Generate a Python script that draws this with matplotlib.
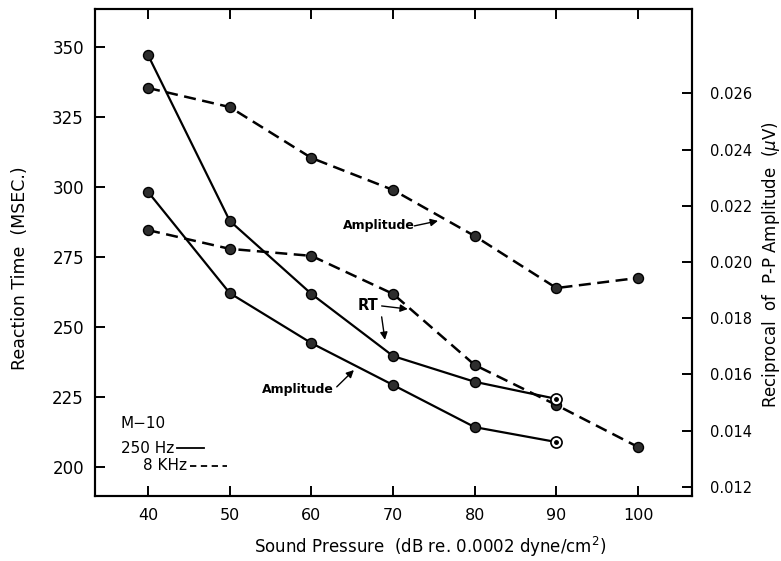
import matplotlib
matplotlib.use("Agg")
import matplotlib.pyplot as plt

plt.rcParams['font.family'] = ['DejaVu Sans']

# Sound pressure levels (dB re. 0.0002 dyne/cm^2)
spl_250 = [40, 50, 60, 70, 80, 90]
spl_8k = [40, 50, 60, 70, 80, 90, 100]

# 250 Hz: reaction time (msec) and reciprocal of P-P amplitude (1/uV)
rt_250 = [347.1, 287.9, 261.8, 239.6, 230.4, 224.3]
amp_250 = [0.02249, 0.01889, 0.01711, 0.01562, 0.01412, 0.01359]

# 8 kHz: reaction time (msec) and reciprocal of P-P amplitude (1/uV)
rt_8k = [284.6, 277.9, 275.4, 261.8, 236.4, 222.1, 207.1]
amp_8k = [0.02619, 0.02551, 0.02370, 0.02256, 0.02092, 0.01907, 0.01943]

x_ticks = [40, 50, 60, 70, 80, 90, 100]
rt_ticks = [200, 225, 250, 275, 300, 325, 350]
amp_ticks = [0.012, 0.014, 0.016, 0.018, 0.020, 0.022, 0.024, 0.026]

fig = plt.figure(figsize=(7.81, 5.61), dpi=100)
ax = fig.add_axes([95 / 781, 1 - 496 / 561, (692 - 95) / 781, (496 - 9) / 561])
ax2 = ax.twinx()

ax.set_xlim(33.5, 106.6)
ax.set_ylim(189.6, 363.6)
ax2.set_ylim(0.01167, 0.0290)

dash = (0, (4.8, 2.6))
mk = dict(marker='o', markersize=7.2, markerfacecolor='#2e2e2e',
          markeredgecolor='black', markeredgewidth=1.0)

# reaction-time curves on the left scale
ax.plot(spl_250, rt_250, color='black', lw=1.6, **mk, zorder=3)
ax.plot(spl_8k, rt_8k, color='black', lw=1.8, linestyle=dash, **mk, zorder=3)
# amplitude curves on the right scale
ax2.plot(spl_250, amp_250, color='black', lw=1.6, **mk, zorder=3)
ax2.plot(spl_8k, amp_8k, color='black', lw=1.8, linestyle=dash, **mk, zorder=3)

# final 250 Hz points drawn as open circles with a centre dot
for a, ys in ((ax, rt_250), (ax2, amp_250)):
    a.plot(spl_250[-1:], ys[-1:], marker='o', markersize=8, markerfacecolor='white',
           markeredgecolor='black', markeredgewidth=1.2, linestyle='none', zorder=5)
    a.plot(spl_250[-1:], ys[-1:], marker='o', markersize=2.5, color='black',
           linestyle='none', zorder=6)

# axes styling
for a in (ax, ax2):
    for s in a.spines.values():
        s.set_linewidth(1.5)
ax.set_xticks(x_ticks)
ax.set_xticklabels([str(v) for v in x_ticks], fontsize=11.5)
ax.set_yticks(rt_ticks)
ax.set_yticklabels([str(v) for v in rt_ticks], fontsize=12)
ax.tick_params(axis='x', which='both', direction='in', top=True, bottom=True,
               length=7, width=1.4, pad=9)
ax.tick_params(axis='y', direction='in', left=True, right=False, length=7,
               width=1.4, pad=8)
ax2.set_yticks(amp_ticks)
ax2.set_yticklabels([f"{v:.3f}" for v in amp_ticks], fontsize=10.5)
ax2.tick_params(axis='y', direction='in', right=True, length=7, width=1.4, pad=13)

fig.text(20 / 781, 1 - 268 / 561, 'Reaction Time  (MSEC.)', rotation=90,
         ha='center', va='center', fontsize=12.5)
fig.text(771 / 781, 1 - 265 / 561, 'Reciprocal  of  P-P Amplitude  ($\\mu$V)',
         rotation=90, ha='center', va='center', fontsize=12)
fig.text(430 / 781, 1 - 547 / 561, 'Sound Pressure  (dB re. 0.0002 dyne/cm$^{2}$)',
         ha='center', va='center', fontsize=12)

# curve labels with arrows
arrow = dict(arrowstyle='-|>', color='black', lw=1.0, mutation_scale=11,
             shrinkA=0, shrinkB=0)
ax.text(63.9, 286.1, 'Amplitude', ha='left', va='center', fontsize=9,
        fontweight='bold')
ax.annotate('', xy=(75.5, 287.9), xytext=(72.6, 286.1), arrowprops=arrow)

ax.text(66.9, 257.5, 'RT', ha='center', va='center', fontsize=10.5, fontweight='bold')
ax.annotate('', xy=(71.8, 256.4), xytext=(68.6, 257.5), arrowprops=arrow)
ax.annotate('', xy=(69.0, 245.4), xytext=(68.6, 253.6), arrowprops=arrow)

ax.text(58.4, 227.5, 'Amplitude', ha='center', va='center', fontsize=9,
        fontweight='bold')
ax.annotate('', xy=(65.2, 234.6), xytext=(63.1, 228.6), arrowprops=arrow)

# key
ax.text(36.6, 215.4, 'M\u221210', ha='left', va='center', fontsize=11)
ax.text(36.7, 206.6, '250 Hz', ha='left', va='center', fontsize=11)
ax.plot([43.5, 46.9], [206.6, 206.6], color='black', lw=1.3)
ax.text(39.4, 200.4, '8 KHz', ha='left', va='center', fontsize=11)
ax.plot([45.1, 49.7], [200.4, 200.4], color='black', lw=1.3, linestyle=(0, (3.5, 2.5)))

fig.savefig('out.png', dpi=100)
